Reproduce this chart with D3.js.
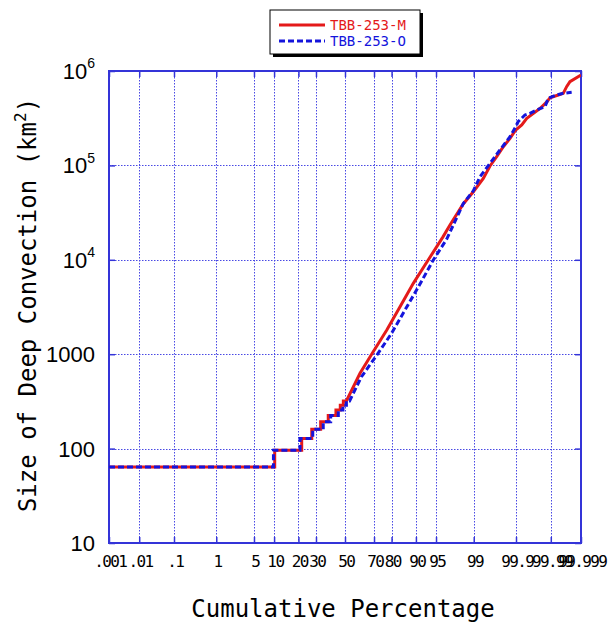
<!DOCTYPE html>
<html>
<head>
<meta charset="utf-8">
<script src="https://cdn.jsdelivr.net/npm/d3@7"></script>
<style>
  html, body { margin: 0; padding: 0; background: #fff; }
  svg { display: block; }
</style>
</head>
<body>
<svg id="chart" width="609" height="628"></svg>
<script>
// ---- data -------------------------------------------------------------
const seriesNames = ["TBB-253-M", "TBB-253-O"];
const seriesColors = ["#e41a1a", "#1414dc"];

// small systems: size (km²) and cumulative percentage reached at that size
const stepSizes = [64, 96, 128, 160, 192, 224, 256, 288, 320];
const stepPctM  = [10.2, 21.7, 27.4, 33.0, 38.1, 43.5, 46.6, 48.8, 51.0];
const stepPctO  = [9.8, 20.8, 28.0, 34.7, 39.8, 45.2, 48.5, 51.0, 53.3];

// larger systems
const tailPctM  = [60.7, 68.5, 77.5, 84.0, 89.15, 93.4, 96.17, 97.11, 98.37, 98.98,
                   99.378, 99.561, 99.694, 99.789, 99.857, 99.898, 99.930, 99.949,
                   99.967, 99.979, 99.987, 99.9894, 99.9942, 99.9960, 99.9969,
                   99.9976, 99.999];
const tailSizeM = [628, 998, 1800, 3190, 5630, 10000, 17500, 23400, 39000, 52600,
                   72900, 98600, 123700, 157800, 193600, 237000, 268000, 315000,
                   356000, 403000, 473000, 521000, 557000, 580000, 682000,
                   771000, 908000];
const tailPctO  = [61.72, 72.15, 79.96, 86.09, 90.80, 94.48, 96.70, 97.66, 98.375,
                   98.98, 99.266, 99.561, 99.7445, 99.857, 99.898, 99.912, 99.9425,
                   99.9584, 99.9733, 99.985, 99.988, 99.99345, 99.996, 99.9979];
const tailSizeO = [578, 1000, 1660, 2940, 5190, 9960, 16600, 25500, 39500, 53800,
                   75900, 105200, 145600, 201500, 257000, 290000, 342000, 356000,
                   386000, 419000, 514000, 557000, 580000, 594000];

const startPct = 0.001;

const xTickPct    = [0.001, 0.01, 0.1, 1, 5, 10, 20, 30, 50, 70, 80, 90, 95, 99, 99.9, 99.99, 99.999];
const xTickLabels = [".001", ".01", ".1", "1", "5", "10", "20", "30", "50", "70", "80", "90", "95", "99", "99.9", "99.99", "99.999"];
const yTickValues = [10, 100, 1000, 1e4, 1e5, 1e6];
const yTickLabels = [["10", ""], ["100", ""], ["1000", ""], ["10", "4"], ["10", "5"], ["10", "6"]];

// ---- normal probability transform (Acklam's inverse normal CDF) -------
function probit(p) {
  const a = [-3.969683028665376e+01, 2.209460984245205e+02, -2.759285104469687e+02,
             1.383577518672690e+02, -3.066479806614716e+01, 2.506628277459239e+00];
  const b = [-5.447609879822406e+01, 1.615858368580409e+02, -1.556989798598866e+02,
             6.680131188771972e+01, -1.328068155288572e+01];
  const c = [-7.784894002430293e-03, -3.223964580411365e-01, -2.400758277161838e+00,
             -2.549732539343734e+00, 4.374664141464968e+00, 2.938163982698783e+00];
  const d = [7.784695709041462e-03, 3.224671290700398e-01, 2.445134137142996e+00,
             3.754408661907416e+00];
  const pl = 0.02425, ph = 1 - pl;
  let q, r;
  if (p < pl) {
    q = Math.sqrt(-2 * Math.log(p));
    return (((((c[0]*q+c[1])*q+c[2])*q+c[3])*q+c[4])*q+c[5]) / ((((d[0]*q+d[1])*q+d[2])*q+d[3])*q+1);
  }
  if (p <= ph) {
    q = p - 0.5; r = q * q;
    return (((((a[0]*r+a[1])*r+a[2])*r+a[3])*r+a[4])*r+a[5])*q / (((((b[0]*r+b[1])*r+b[2])*r+b[3])*r+b[4])*r+1);
  }
  q = Math.sqrt(-2 * Math.log(1 - p));
  return -(((((c[0]*q+c[1])*q+c[2])*q+c[3])*q+c[4])*q+c[5]) / ((((d[0]*q+d[1])*q+d[2])*q+d[3])*q+1);
}
const zOf = pct => probit(pct / 100);

// ---- layout -----------------------------------------------------------
const L = 109, R = 581, T = 71, B = 543;
const axisColor = "#3434d8";
const monoFont = "'DejaVu Sans Mono', 'Liberation Mono', monospace";
const numFont = "'Liberation Sans', Arial, sans-serif";

const svg = d3.select("#chart");

const xz = d3.scaleLinear().domain([zOf(0.001), zOf(99.999)]).range([L, R]);
const x = pct => xz(zOf(pct));
const y = d3.scaleLog().domain([10, 1e6]).range([B, T]);

// clip
svg.append("defs").append("clipPath").attr("id", "plotClip")
  .append("rect").attr("x", L).attr("y", T).attr("width", R - L).attr("height", B - T);

// ---- grid -------------------------------------------------------------
const grid = svg.append("g").attr("stroke", "#2a2ae0").attr("stroke-width", 1)
  .attr("stroke-dasharray", "1.5,1.5").attr("opacity", 0.85);
grid.selectAll("line.vx").data(xTickPct.slice(1, -1)).join("line")
  .attr("x1", d => Math.round(x(d)) + 0.5).attr("x2", d => Math.round(x(d)) + 0.5)
  .attr("y1", T).attr("y2", B);
grid.selectAll("line.hy").data(yTickValues.slice(1, -1)).join("line")
  .attr("y1", d => Math.round(y(d)) + 0.5).attr("y2", d => Math.round(y(d)) + 0.5)
  .attr("x1", L).attr("x2", R);

// ---- axes -------------------------------------------------------------
const xTickZ = xTickPct.map(zOf);

const xAxis = svg.append("g").attr("transform", `translate(0,${B})`)
  .call(d3.axisBottom(xz).tickValues(xTickZ).tickSizeInner(-6).tickSizeOuter(0)
        .tickPadding(13).tickFormat((d, i) => xTickLabels[i]));
svg.append("g").attr("transform", `translate(0,${T})`)
  .call(d3.axisTop(xz).tickValues(xTickZ).tickSizeInner(-6).tickSizeOuter(0).tickFormat(""));

const yAxis = svg.append("g").attr("transform", `translate(${L},0)`)
  .call(d3.axisLeft(y).tickValues(yTickValues).tickSizeInner(-6).tickSizeOuter(0)
        .tickPadding(14).tickFormat(""));
svg.append("g").attr("transform", `translate(${R},0)`)
  .call(d3.axisRight(y).tickValues(yTickValues).tickSizeInner(-6).tickSizeOuter(0).tickFormat(""));

svg.selectAll(".domain").remove();
svg.selectAll(".tick line").attr("stroke", axisColor).attr("stroke-width", 1.5);

xAxis.selectAll("text")
  .attr("fill", "#000").attr("font-family", monoFont).attr("font-size", 16)
  .attr("letter-spacing", "-1.6px").attr("dx", "0.8px");

// y labels with superscript exponents
yAxis.selectAll(".tick text").each(function (d, i) {
  const t = d3.select(this)
    .attr("fill", "#000").attr("font-family", numFont).attr("font-size", 22)
    .attr("dy", "0.34em").text(null);
  const lab = yTickLabels[i];
  t.append("tspan").text(lab[0]);
  if (lab[1]) {
    t.append("tspan").attr("font-size", 14).attr("dy", "-0.75em").text(lab[1]);
  }
});

// frame
svg.append("rect").attr("x", L).attr("y", T).attr("width", R - L).attr("height", B - T)
  .attr("fill", "none").attr("stroke", axisColor).attr("stroke-width", 2);

// ---- series -----------------------------------------------------------
function seriesPath(stepPct, tailPct, tailSize) {
  const steps = [[startPct, stepSizes[0]]].concat(stepPct.map((p, i) => [p, stepSizes[i]]));
  const last = steps[steps.length - 1];
  const tail = [last].concat(tailPct.map((p, i) => [p, tailSize[i]]));
  const stepLine = d3.line().x(d => x(d[0])).y(d => y(d[1])).curve(d3.curveStepBefore);
  const tailLine = d3.line().x(d => x(d[0])).y(d => y(d[1]));
  return stepLine(steps) + tailLine(tail).replace(/^M/, "L");
}

const plot = svg.append("g").attr("clip-path", "url(#plotClip)");
plot.append("path")
  .attr("d", seriesPath(stepPctM, tailPctM, tailSizeM))
  .attr("fill", "none").attr("stroke", seriesColors[0]).attr("stroke-width", 3)
  .attr("stroke-linejoin", "miter");
plot.append("path")
  .attr("d", seriesPath(stepPctO, tailPctO, tailSizeO))
  .attr("fill", "none").attr("stroke", seriesColors[1]).attr("stroke-width", 3)
  .attr("stroke-dasharray", "6,3").attr("stroke-linejoin", "miter");

// ---- titles -----------------------------------------------------------
svg.append("text")
  .attr("x", (L + R) / 2 - 2).attr("y", 617)
  .attr("text-anchor", "middle").attr("font-family", monoFont).attr("font-size", 24)
  .text("Cumulative Percentage");

const yt = svg.append("text")
  .attr("transform", `translate(36,${(T + B) / 2 - 2}) rotate(-90)`)
  .attr("text-anchor", "middle").attr("font-family", monoFont).attr("font-size", 24);
yt.append("tspan").text("Size of Deep Convection (km");
yt.append("tspan").attr("font-size", 16).attr("dy", "-0.6em").text("2");
yt.append("tspan").attr("dy", "0.4em").text(")");

// ---- legend -----------------------------------------------------------
const lg = svg.append("g");
const lgX = 270, lgY = 10, lgW = 150, lgH = 44;
lg.append("rect").attr("x", lgX + 3).attr("y", lgY + 3).attr("width", lgW).attr("height", lgH)
  .attr("fill", "#000");
lg.append("rect").attr("x", lgX).attr("y", lgY).attr("width", lgW).attr("height", lgH)
  .attr("fill", "#fff").attr("stroke", "#000").attr("stroke-width", 1);
seriesNames.forEach((name, i) => {
  const cy = 25 + i * 16;
  lg.append("line").attr("x1", 279).attr("x2", 325).attr("y1", cy).attr("y2", cy)
    .attr("stroke", seriesColors[i]).attr("stroke-width", 3)
    .attr("stroke-dasharray", i === 1 ? "6,3" : null);
  lg.append("text").attr("x", 330).attr("y", cy + 5)
    .attr("font-family", monoFont).attr("font-size", 14).attr("fill", seriesColors[i])
    .text(name);
});
</script>
</body>
</html>
